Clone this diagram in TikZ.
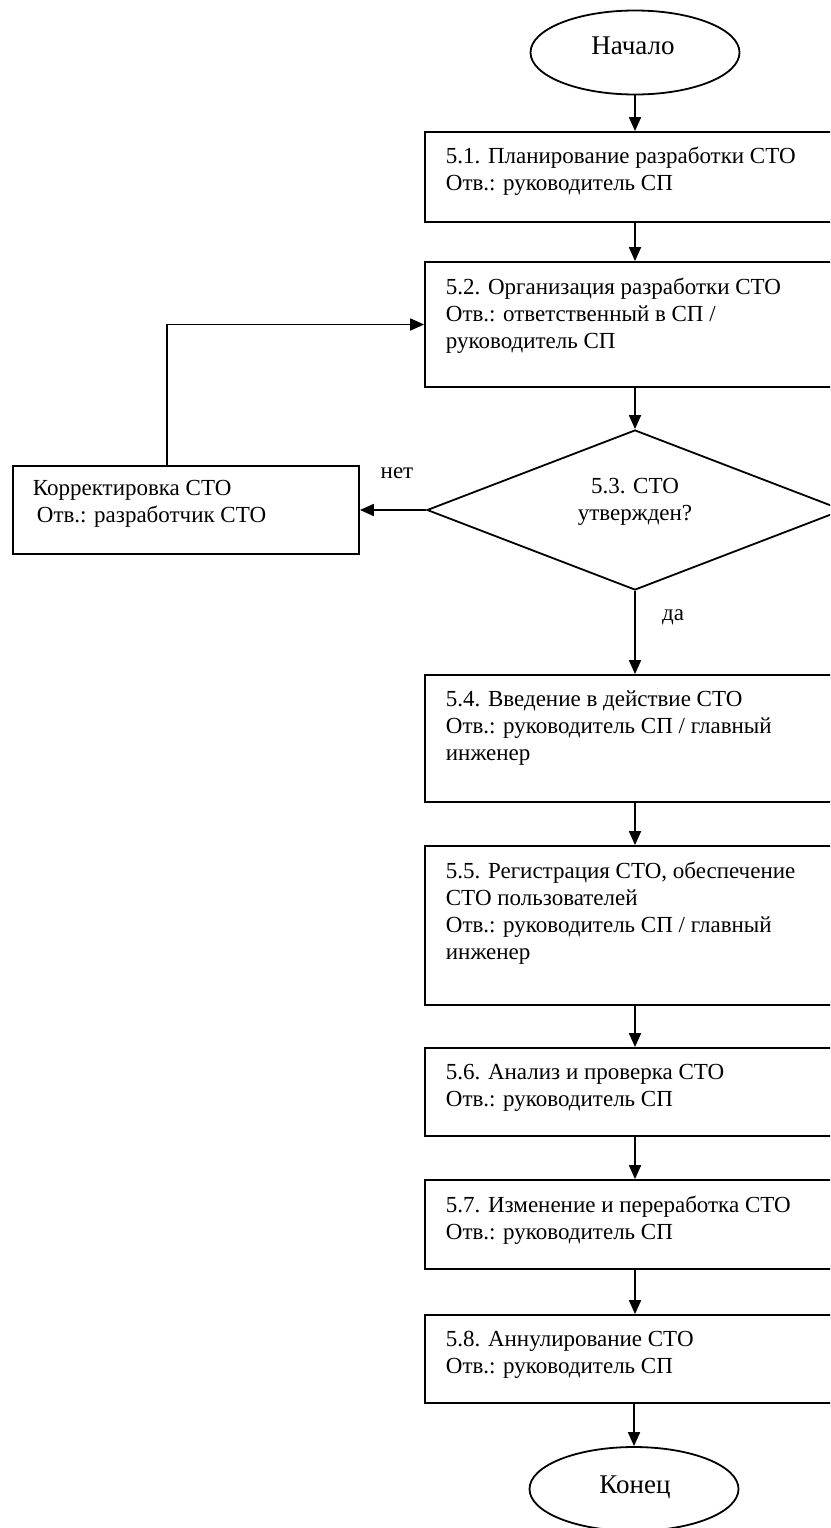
\documentclass[tikz,border=0pt]{standalone}
\usepackage{fontspec}
\setmainfont{Liberation Serif}
\usetikzlibrary{shapes.geometric,arrows.meta}
\begin{document}
\begin{tikzpicture}[x=1pt,y=-1pt,
  line width=1.8pt,
  box/.style={draw, rectangle, minimum width=420pt, inner sep=0pt},
  term/.style={draw, ellipse, minimum width=209pt, minimum height=84pt, inner sep=0pt},
  txt/.style={anchor=north west, inner sep=0pt, align=left, font=\fontsize{23}{27}\selectfont},
  lbl/.style={inner sep=0pt, font=\fontsize{23}{27}\selectfont},
  big/.style={inner sep=0pt, font=\fontsize{27}{29}\selectfont},
  arr/.style={-{Triangle[length=14pt,width=12pt]}, line width=1.8pt}]
\path[use as bounding box] (0,0) rectangle (830,1528);
\clip (0,0) rectangle (830,1528);

% terminals
\node[term] (start) at (635,52.5) {};
\node[big] (tstart) at (633,46) {Начало};
\node[term] (end) at (634,1489) {};
\node[big] (tend) at (635,1487) {Конец};

% process boxes
\node[box, minimum height=90pt] (b1) at (635,177) {};
\node[txt] (t1) at (445,146) {5.1. Планирование разработки СТО\\Отв.: руководитель СП};

\node[box, minimum height=125pt] (b2) at (635,324.5) {};
\node[txt] (t2) at (445,277) {5.2. Организация разработки СТО\\Отв.: ответственный в СП /\\руководитель СП};

\node[draw, diamond, minimum width=416pt, minimum height=160pt, inner sep=0pt] (d) at (635,510) {};
\node[lbl, align=center] (td) at (635,502) {5.3. СТО\\утвержден?};

\node[draw, rectangle, minimum width=346pt, minimum height=88pt, inner sep=0pt] (k) at (186,510) {};
\node[txt] (tk) at (32,479) {Корректировка СТО\\\hspace*{4pt}Отв.: разработчик СТО};

\node[box, minimum height=127pt] (b4) at (635,738.5) {};
\node[txt] (t4) at (445,690) {5.4. Введение в действие СТО\\Отв.: руководитель СП / главный\\инженер};

\node[box, minimum height=159pt] (b5) at (635,925.5) {};
\node[txt] (t5) at (445,861) {5.5. Регистрация СТО, обеспечение\\СТО пользователей\\Отв.: руководитель СП / главный\\инженер};

\node[box, minimum height=88pt] (b6) at (635,1092) {};
\node[txt] (t6) at (445,1063) {5.6. Анализ и проверка СТО\\Отв.: руководитель СП};

\node[box, minimum height=89pt] (b7) at (635,1224.5) {};
\node[txt] (t7) at (445,1195) {5.7. Изменение и переработка СТО\\Отв.: руководитель СП};

\node[box, minimum height=88pt] (b8) at (635,1359) {};
\node[txt] (t8) at (445,1330) {5.8. Аннулирование СТО\\Отв.: руководитель СП};

% labels
\node[lbl] (no) at (397,473) {нет};
\node[lbl] (yes) at (673,617) {да};

% connectors
\draw[arr] (start.south) -- (b1.north);
\draw[arr] (b1.south) -- (b2.north);
\draw[arr] (b2.south) -- (d.north);
\draw[arr] (d.west) -- (k.east);
\draw[arr] (d.south) -- (b4.north);
\coordinate (lx) at (167,0);
\draw[arr] (k.north -| lx) |- (b2.west);
\draw[arr] (b4.south) -- (b5.north);
\draw[arr] (b5.south) -- (b6.north);
\draw[arr] (b6.south) -- (b7.north);
\draw[arr] (b7.south) -- (b8.north);
\draw[arr] (b8.south -| end.north) -- (end.north);
\end{tikzpicture}
\end{document}
